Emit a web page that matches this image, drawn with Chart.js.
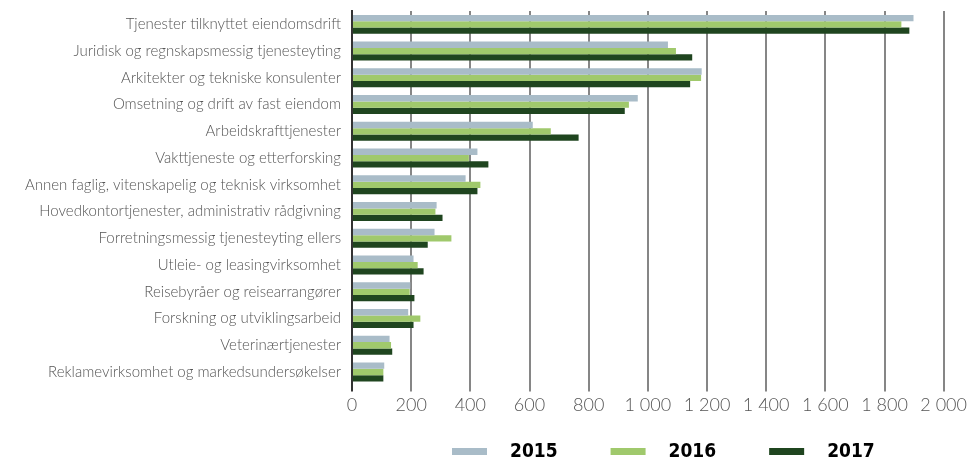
<!DOCTYPE html>
<html lang="no">
<head>
<meta charset="utf-8">
<title>Tjenesteyting</title>
<script src="https://cdn.jsdelivr.net/npm/chart.js@4.4.1/dist/chart.umd.min.js"></script>
<style>
  html, body { margin: 0; padding: 0; background: #fff; }
  #wrap { width: 970px; height: 461px; position: relative; }
</style>
</head>
<body>
<div id="wrap"><canvas id="grafikk"></canvas></div>
<script>
// ================= DATA =================
const kategorier = [
  "Tjenester tilknyttet eiendomsdrift",
  "Juridisk og regnskapsmessig tjenesteyting",
  "Arkitekter og tekniske konsulenter",
  "Omsetning og drift av fast eiendom",
  "Arbeidskrafttjenester",
  "Vakttjeneste og etterforsking",
  "Annen faglig, vitenskapelig og teknisk virksomhet",
  "Hovedkontortjenester, administrativ rådgivning",
  "Forretningsmessig tjenesteyting ellers",
  "Utleie- og leasingvirksomhet",
  "Reisebyråer og reisearrangører",
  "Forskning og utviklingsarbeid",
  "Veterinærtjenester",
  "Reklamevirksomhet og markedsundersøkelser"
];

const aar = ["2015", "2016", "2017"];

const verdier2015 = [1898, 1068, 1182, 966, 611, 424, 384, 286, 279, 208, 197, 190, 127, 109];
const verdier2016 = [1857, 1095, 1180, 936, 672, 395, 434, 282, 336, 222, 195, 231, 132, 106];
const verdier2017 = [1884, 1150, 1143, 922, 766, 461, 424, 306, 256, 242, 211, 208, 136, 106];

const aksetikker = [0, 200, 400, 600, 800, 1000, 1200, 1400, 1600, 1800, 2000];

// farger
const FARGER = {
  a2015: "#a9bcc8",
  a2016: "#a0c96c",
  a2017: "#1f451f",
  rutenett: "#868686",
  akse: "#333333",
  tekst: "#555555"
};

// tusenskille med mellomrom: 1 000
function formater(v) {
  return String(v).replace(/\B(?=(\d{3})+(?!\d))/g, " ");
}

// egen forklaring under grafen: bred strek, luft, fet årstall
const forklaring = {
  id: "forklaring",
  afterDraw(chart) {
    const c = chart.ctx;
    const y = chart.height - 9;
    const boks = 35, luft = 23, mellom = 53;
    c.save();
    c.font = "bold 19px 'DejaVu Sans Condensed', 'DejaVu Sans', sans-serif";
    c.textBaseline = "middle";
    let x = chart.chartArea.left + 100;
    chart.data.datasets.forEach(ds => {
      c.fillStyle = ds.backgroundColor;
      c.fillRect(x, y - 4, boks, 7);
      x += boks + luft;
      c.fillStyle = "#000";
      c.fillText(ds.label, x, y);
      x += c.measureText(ds.label).width + mellom;
    });
    c.restore();
  }
};

const ctx = document.getElementById("grafikk");

new Chart(ctx, {
  type: "bar",
  data: {
    labels: kategorier,
    datasets: [
      { label: aar[0], data: verdier2015, backgroundColor: FARGER.a2015 },
      { label: aar[1], data: verdier2016, backgroundColor: FARGER.a2016 },
      { label: aar[2], data: verdier2017, backgroundColor: FARGER.a2017 }
    ]
  },
  options: {
    indexAxis: "y",
    responsive: true,
    maintainAspectRatio: false,
    animation: false,
    datasets: {
      bar: { categoryPercentage: 0.71, barPercentage: 1.0 }
    },
    layout: {
      padding: { left: 0, right: 26, top: 11, bottom: 42 }
    },
    scales: {
      x: {
        min: 0,
        max: 2000,
        afterBuildTicks: s => { s.ticks = aksetikker.map(v => ({ value: v })); },
        border: { display: false },
        grid: {
          color: c => c.tick && c.tick.value === 0 ? FARGER.akse : FARGER.rutenett,
          lineWidth: 2,
          drawTicks: true,
          tickLength: 6
        },
        ticks: {
          callback: v => formater(v),
          color: FARGER.tekst,
          font: { family: "Lato", weight: 300, size: 18 },
          padding: 3,
          maxRotation: 0
        }
      },
      y: {
        afterFit: s => {
          s.width = 352;
          s.paddingTop = 0;
          s.paddingBottom = 0;
        },
        border: { display: true, color: FARGER.akse, width: 2 },
        grid: { display: false, drawTicks: false },
        ticks: {
          color: FARGER.tekst,
          font: { family: "Lato", weight: 300, size: 15 },
          padding: 11,
          autoSkip: false
        }
      }
    },
    plugins: {
      tooltip: { enabled: false },
      legend: { display: false }
    }
  },
  plugins: [forklaring]
});
</script>
</body>
</html>
